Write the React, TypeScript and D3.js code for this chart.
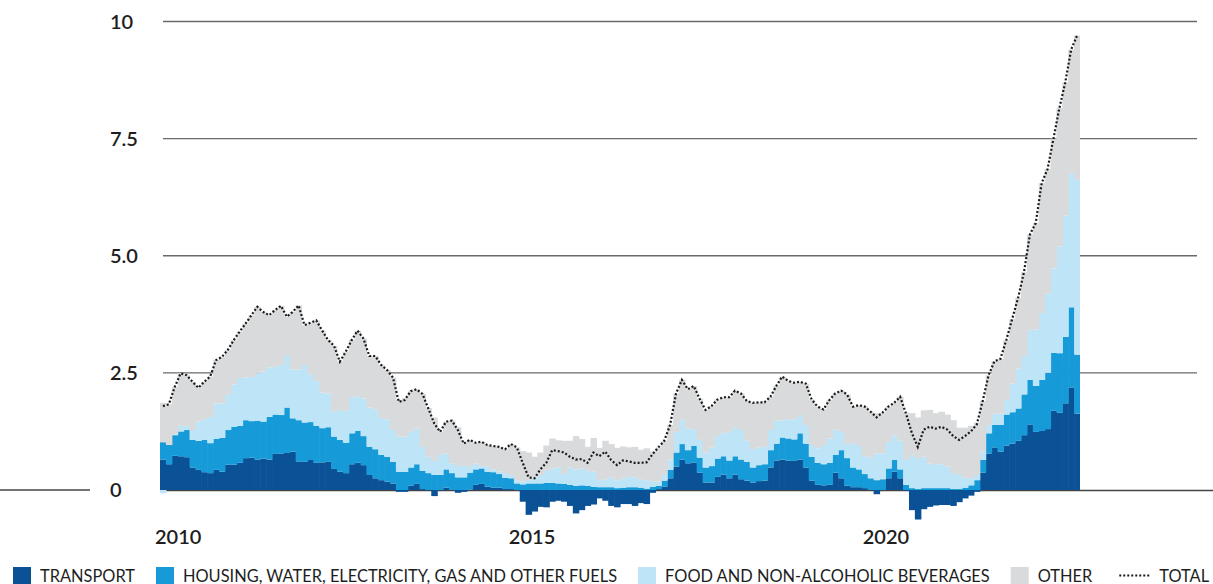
import { useEffect, useRef } from 'react';
import * as d3 from 'd3';

const W = 1213;
const H = 584;

// monthly contributions to inflation (percentage points), Jan 2010 onwards
const transport = [
  0.65, 0.55, 0.73, 0.72, 0.70, 0.48, 0.43, 0.38, 0.36, 0.43, 0.39, 0.54, 0.54, 0.58, 0.68, 0.69, 0.65, 0.67, 0.65, 0.77, 0.78, 0.79, 0.82, 0.61, 0.60, 0.64, 0.58, 0.59,
  0.60, 0.45, 0.39, 0.36, 0.55, 0.58, 0.53, 0.32, 0.25, 0.21, 0.18, 0.14, -0.04, -0.04, 0.09, 0.13, 0.02, -0.01, -0.13, -0.01, 0.05, 0.00, -0.06, -0.04, 0.01, 0.11, 0.13, 0.07,
  0.05, 0.05, 0.02, 0.02, 0.00, -0.25, -0.53, -0.46, -0.36, -0.37, -0.25, -0.23, -0.25, -0.34, -0.50, -0.43, -0.34, -0.31, -0.18, -0.23, -0.34, -0.37, -0.30, -0.30, -0.34, -0.28, -0.30, -0.06, 0.02, 0.07,
  0.25, 0.50, 0.65, 0.57, 0.58, 0.37, 0.16, 0.16, 0.28, 0.33, 0.25, 0.33, 0.23, 0.20, 0.16, 0.19, 0.20, 0.48, 0.63, 0.65, 0.63, 0.62, 0.65, 0.48, 0.20, 0.11,
  0.10, 0.11, 0.37, 0.25, 0.09, 0.06, 0.06, 0.04, 0.00, -0.09, 0.00, 0.25, 0.39, 0.25, -0.02, -0.43, -0.63, -0.41, -0.36, -0.33, -0.32, -0.32, -0.34, -0.26,
  -0.18, -0.12, -0.04, 0.37, 0.78, 0.91, 0.82, 0.95, 0.99, 1.05, 1.17, 1.40, 1.24, 1.26, 1.30, 1.69, 1.65, 1.85, 2.19, 1.63,
];
const housing = [
  0.37, 0.41, 0.44, 0.53, 0.58, 0.59, 0.62, 0.69, 0.64, 0.66, 0.72, 0.74, 0.81, 0.79, 0.81, 0.78, 0.83, 0.79, 0.91, 0.84, 0.82, 0.97, 0.71, 0.88, 0.84, 0.81, 0.79, 0.73,
  0.74, 0.69, 0.68, 0.65, 0.66, 0.68, 0.62, 0.60, 0.62, 0.54, 0.53, 0.46, 0.39, 0.39, 0.39, 0.42, 0.39, 0.36, 0.32, 0.32, 0.39, 0.36, 0.27, 0.27, 0.36, 0.33, 0.33, 0.32,
  0.33, 0.29, 0.24, 0.23, 0.14, 0.12, 0.14, 0.14, 0.14, 0.15, 0.15, 0.14, 0.13, 0.11, 0.09, 0.10, 0.09, 0.07, 0.06, 0.06, 0.06, 0.04, 0.05, 0.06, 0.06, 0.05, 0.03, 0.07, 0.07, 0.13,
  0.18, 0.30, 0.33, 0.28, 0.36, 0.32, 0.32, 0.35, 0.39, 0.39, 0.38, 0.39, 0.42, 0.40, 0.32, 0.34, 0.35, 0.37, 0.36, 0.47, 0.47, 0.46, 0.56, 0.51, 0.51, 0.47,
  0.45, 0.47, 0.38, 0.60, 0.59, 0.42, 0.38, 0.30, 0.25, 0.21, 0.23, 0.21, 0.25, 0.19, 0.11, 0.04, 0.02, 0.04, 0.04, 0.04, 0.04, 0.04, 0.02, 0.02,
  0.05, 0.10, 0.21, 0.27, 0.43, 0.48, 0.57, 0.66, 0.67, 0.69, 0.87, 0.95, 0.98, 1.09, 1.20, 1.24, 1.27, 1.42, 1.71, 1.26,
];
const food = [
  -0.07, 0.00, 0.02, 0.12, 0.09, 0.21, 0.41, 0.44, 0.56, 0.76, 0.74, 0.75, 0.90, 1.02, 0.91, 0.94, 1.01, 1.07, 1.06, 1.02, 1.07, 1.12, 1.04, 1.08, 1.23, 1.02, 0.96, 0.76,
  0.72, 0.53, 0.64, 0.68, 0.77, 0.74, 0.80, 0.84, 0.85, 0.79, 0.80, 0.68, 0.75, 0.75, 0.76, 0.76, 0.51, 0.35, 0.30, 0.43, 0.34, 0.21, 0.24, 0.24, 0.14, 0.13, 0.05, 0.11,
  0.06, 0.06, 0.10, 0.07, 0.07, 0.06, 0.07, 0.13, 0.18, 0.26, 0.31, 0.34, 0.21, 0.37, 0.35, 0.36, 0.32, 0.32, 0.15, 0.17, 0.20, 0.17, 0.20, 0.22, 0.21, 0.18, 0.18, 0.11, 0.09, 0.14,
  0.22, 0.44, 0.51, 0.46, 0.36, 0.38, 0.32, 0.40, 0.48, 0.50, 0.61, 0.62, 0.63, 0.45, 0.39, 0.38, 0.37, 0.43, 0.49, 0.37, 0.41, 0.43, 0.39, 0.40, 0.25, 0.31,
  0.41, 0.52, 0.54, 0.39, 0.30, 0.52, 0.50, 0.38, 0.45, 0.57, 0.55, 0.57, 0.53, 0.61, 0.53, 0.71, 0.66, 0.67, 0.53, 0.51, 0.51, 0.46, 0.34, 0.30,
  0.21, 0.15, 0.11, 0.18, 0.18, 0.24, 0.24, 0.31, 0.61, 0.85, 0.82, 1.06, 1.21, 1.43, 1.69, 1.80, 2.28, 2.59, 2.85, 3.73,
];
const other = [
  0.84, 0.87, 1.01, 1.12, 1.08, 1.03, 0.72, 0.80, 0.86, 0.92, 0.99, 0.96, 0.95, 0.99, 1.15, 1.32, 1.42, 1.27, 1.11, 1.21, 1.26, 0.82, 1.23, 1.37, 0.85, 1.10, 1.29, 1.32,
  1.14, 1.41, 1.03, 1.26, 1.22, 1.40, 1.28, 1.10, 1.14, 1.13, 1.05, 1.12, 0.78, 0.82, 0.87, 0.84, 1.13, 1.04, 0.93, 0.50, 0.68, 0.91, 0.83, 0.52, 0.56, 0.44, 0.52, 0.46,
  0.50, 0.52, 0.51, 0.66, 0.70, 0.65, 0.59, 0.44, 0.48, 0.54, 0.64, 0.58, 0.71, 0.57, 0.71, 0.63, 0.51, 0.72, 0.69, 0.82, 0.72, 0.69, 0.68, 0.63, 0.65, 0.63, 0.68, 0.64, 0.73, 0.71,
  0.74, 0.82, 0.86, 0.84, 0.92, 0.88, 0.91, 0.88, 0.78, 0.76, 0.74, 0.78, 0.78, 0.85, 0.99, 0.96, 0.95, 0.71, 0.74, 0.93, 0.82, 0.78, 0.71, 0.88, 0.97, 0.89,
  0.76, 0.82, 0.77, 0.88, 1.06, 0.78, 0.87, 1.06, 0.97, 0.86, 0.87, 0.75, 0.69, 0.94, 1.01, 0.89, 0.87, 0.99, 1.14, 1.09, 1.12, 1.11, 1.13, 1.01,
  1.07, 1.12, 1.12, 1.08, 1.06, 1.12, 1.17, 1.28, 1.38, 1.51, 1.79, 2.04, 2.27, 2.77, 2.66, 2.77, 2.95, 2.84, 2.65, 3.08,
];
const total = [
  1.79, 1.83, 2.20, 2.49, 2.45, 2.31, 2.18, 2.31, 2.42, 2.77, 2.84, 2.99, 3.20, 3.38, 3.55, 3.73, 3.91, 3.80, 3.73, 3.84, 3.93, 3.70, 3.80, 3.94, 3.52, 3.57, 3.62, 3.40,
  3.20, 3.08, 2.74, 2.95, 3.20, 3.40, 3.23, 2.86, 2.86, 2.67, 2.56, 2.40, 1.88, 1.92, 2.11, 2.15, 2.05, 1.74, 1.42, 1.24, 1.46, 1.48, 1.28, 0.99, 1.07, 1.01, 1.03, 0.96,
  0.94, 0.92, 0.87, 0.98, 0.91, 0.58, 0.27, 0.25, 0.44, 0.58, 0.85, 0.83, 0.80, 0.71, 0.65, 0.66, 0.58, 0.80, 0.72, 0.82, 0.64, 0.53, 0.63, 0.61, 0.58, 0.58, 0.59, 0.76, 0.91, 1.05,
  1.39, 2.06, 2.35, 2.15, 2.22, 1.95, 1.71, 1.79, 1.93, 1.98, 1.98, 2.12, 2.06, 1.90, 1.86, 1.87, 1.87, 1.99, 2.22, 2.42, 2.33, 2.29, 2.31, 2.27, 1.93, 1.78,
  1.72, 1.92, 2.06, 2.12, 2.04, 1.78, 1.81, 1.78, 1.67, 1.55, 1.65, 1.78, 1.86, 1.99, 1.63, 1.21, 0.92, 1.29, 1.35, 1.31, 1.35, 1.29, 1.15, 1.07,
  1.15, 1.25, 1.40, 1.90, 2.45, 2.75, 2.80, 3.20, 3.65, 4.10, 4.65, 5.45, 5.70, 6.55, 6.85, 7.50, 8.15, 8.70, 9.40, 9.70,
];

const firstYear = 2010;
const yearTicks = [2010, 2015, 2020];
const yTicks = [0, 2.5, 5, 7.5, 10];
const yTickLabels = ['0', '2.5', '5.0', '7.5', '10'];

const seriesKeys = ['transport', 'housing', 'food', 'other'];
const seriesLabels = [
  'TRANSPORT',
  'HOUSING, WATER, ELECTRICITY, GAS AND OTHER FUELS',
  'FOOD AND NON-ALCOHOLIC BEVERAGES',
  'OTHER',
];
const seriesColors = ['#0b5196', '#169bd8', '#bde4f7', '#d9dadb'];
const totalLabel = 'TOTAL';

const FONT = 'Lato, "Open Sans", sans-serif';

const App = () => {
  const ref = useRef<SVGSVGElement>(null);

  useEffect(() => {
    document.body.style.margin = '0';
    const svg = d3.select(ref.current);
    svg.selectAll('*').remove();

    const n = total.length;
    const x = d3.scaleLinear().domain([0, n]).range([160, 1080]);
    const y = d3.scaleLinear().domain([0, 10]).range([490, 21.5]);
    const bw = x(1) - x(0);

    // horizontal gridlines (behind the bars)
    svg.append('g')
      .selectAll('line')
      .data(yTicks.filter(d => d > 0))
      .join('line')
      .attr('x1', 163)
      .attr('x2', 1197)
      .attr('y1', d => y(d))
      .attr('y2', d => y(d))
      .attr('stroke', '#6a6a6a')
      .attr('stroke-width', 1.4);

    // zero line, broken around the label
    svg.append('line')
      .attr('x1', 0).attr('x2', 90)
      .attr('y1', y(0)).attr('y2', y(0))
      .attr('stroke', '#444').attr('stroke-width', 1.5);
    svg.append('line')
      .attr('x1', 160).attr('x2', W)
      .attr('y1', y(0) + 0.5).attr('y2', y(0) + 0.5)
      .attr('stroke', '#444').attr('stroke-width', 1.5);

    // stacked monthly bars
    const rows = total.map((_, i) => ({
      transport: transport[i],
      housing: housing[i],
      food: food[i],
      other: other[i],
    }));
    const stacked = d3.stack<any>().keys(seriesKeys).offset(d3.stackOffsetDiverging)(rows);

    svg.append('g')
      .selectAll('g')
      .data(stacked)
      .join('g')
      .attr('fill', (_, k) => seriesColors[k])
      .selectAll('rect')
      .data(d => d)
      .join('rect')
      .attr('x', (_, i) => x(i))
      .attr('width', (_, i) => (i === n - 1 ? bw : bw + 0.6))
      .attr('y', d => y(Math.max(d[0], d[1])))
      .attr('height', d => Math.abs(y(d[0]) - y(d[1])));

    // total, dotted line through bar centres
    svg.append('path')
      .datum(total)
      .attr('d', d3.line<number>().x((_, i) => x(i + 0.5)).y(d => y(d)))
      .attr('fill', 'none')
      .attr('stroke', '#1a1a1a')
      .attr('stroke-width', 2.2)
      .attr('stroke-dasharray', '2,2');

    // y labels
    svg.append('g')
      .selectAll('text')
      .data(yTicks)
      .join('text')
      .attr('x', 110)
      .attr('y', d => y(d) + 7)
      .attr('font-family', FONT)
      .attr('font-size', 20)
      .attr('font-weight', 600)
      .attr('fill', '#1e1e1e')
      .text((_, i) => yTickLabels[i]);

    // year labels
    svg.append('g')
      .selectAll('text')
      .data(yearTicks)
      .join('text')
      .attr('x', d => x((d - firstYear) * 12) - 5)
      .attr('y', 544)
      .attr('font-family', FONT)
      .attr('font-size', 20)
      .attr('font-weight', 600)
      .attr('fill', '#1e1e1e')
      .text(d => d);

    // legend
    const legend = svg.append('g').attr('font-family', FONT).attr('font-size', 16.4).attr('fill', '#1e1e1e');
    let lx = 13;
    const ly = 567;
    seriesLabels.forEach((label, k) => {
      legend.append('rect').attr('x', lx).attr('y', ly).attr('width', 18).attr('height', 17).attr('fill', seriesColors[k]);
      const t = legend.append('text').attr('x', lx + 27).attr('y', 582).text(label);
      const tw = (t.node() as SVGTextElement).getComputedTextLength();
      lx = lx + 27 + tw + 21;
    });
    legend.append('line')
      .attr('x1', lx + 6).attr('x2', lx + 38)
      .attr('y1', 575.5).attr('y2', 575.5)
      .attr('stroke', '#1a1a1a')
      .attr('stroke-width', 2)
      .attr('stroke-dasharray', '2,2');
    legend.append('text').attr('x', lx + 46).attr('y', 582).text(totalLabel);
  }, []);

  return <svg ref={ref} width={W} height={H} style={{ display: 'block' }} />;
};

export default App;
